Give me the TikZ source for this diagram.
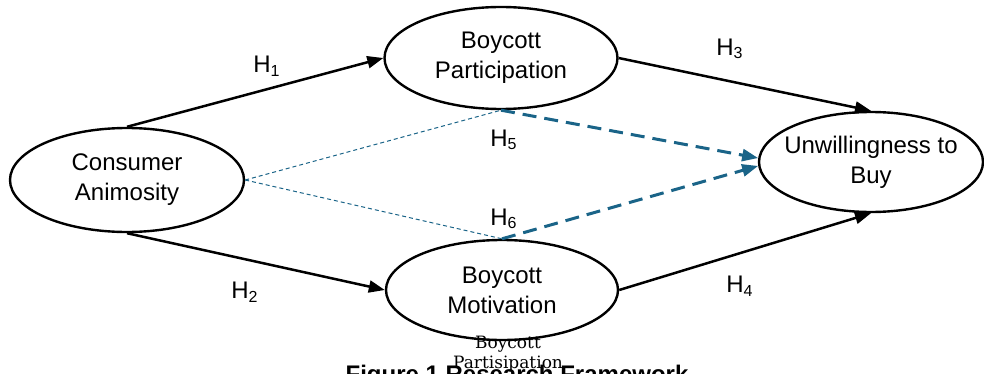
\documentclass[tikz,border=0pt]{standalone}
\usepackage{fontspec}
\setmainfont{Liberation Sans}
\newfontfamily\notefont{DejaVu Serif}
\usetikzlibrary{positioning, arrows.meta, shapes.geometric}
\definecolor{pathblue}{RGB}{26,100,136}

\begin{document}
\begin{tikzpicture}[x=0.5pt, y=-0.5pt, >={Triangle[length=8pt, width=6pt]},
  construct/.style={draw, ellipse, line width=1.2pt, inner xsep=-8pt, inner ysep=0pt, align=center, font=\fontsize{12}{15}\selectfont},
  direct/.style={->, line width=1.25pt},
  mediated/.style={->, draw=pathblue, line width=1.5pt, dash pattern=on 7pt off 4pt},
  indirect/.style={draw=pathblue, line width=0.5pt, dash pattern=on 2pt off 1.5pt},
  hyp/.style={font=\fontsize{12}{14}\selectfont}]
  % Page frame; the caption runs past the lower edge and is cut off.
  \useasboundingbox (0,0) rectangle (984,374);
  \clip (0,0) rectangle (984,374);

  % Constructs
  \node[construct, minimum width=117pt, minimum height=52pt] (animosity) at (127,180) {Consumer\\Animosity};
  \node[construct, minimum width=116.5pt, minimum height=51pt] (participation) at (501,58) {Boycott\\Participation};
  \node[construct, minimum width=116pt, minimum height=50pt] (motivation) at (502,290) {Boycott\\Motivation};
  \node[construct, minimum width=112pt, minimum height=50pt] (unwilling) at (871,162) {Unwillingness to\\Buy};

  % Direct paths
  \draw[direct] (animosity.north) -- (participation.west);
  \draw[direct] (animosity.south) -- (motivation.west);
  \draw[direct] (participation.east) -- (unwilling.north);
  \draw[direct] (motivation.east) -- (unwilling.south);

  % Mediated paths
  \draw[indirect] (animosity.east) -- (participation.south);
  \draw[indirect] (animosity.east) -- (motivation.north);
  \draw[mediated] (participation.south) -- (unwilling.178);
  \draw[mediated] (motivation.north) -- (unwilling.182);

  % Hypotheses
  \node[hyp] (h1) at (267,66) {H\textsubscript{1}};
  \node[hyp] (h2) at (245,292) {H\textsubscript{2}};
  \node[hyp] (h3) at (730,49) {H\textsubscript{3}};
  \node[hyp] (h4) at (740,286) {H\textsubscript{4}};
  \node[hyp] (h5) at (504,140) {H\textsubscript{5}};
  \node[hyp] (h6) at (504,219) {H\textsubscript{6}};

  \node[font=\notefont\fontsize{8.5}{10}\selectfont, align=center] (note) at (508,354) {Boycott\\Partisipation};
  \node[font=\bfseries\fontsize{12}{14}\selectfont, anchor=base] (caption) at (517,382) {Figure 1 Research Framework};
\end{tikzpicture}
\end{document}
